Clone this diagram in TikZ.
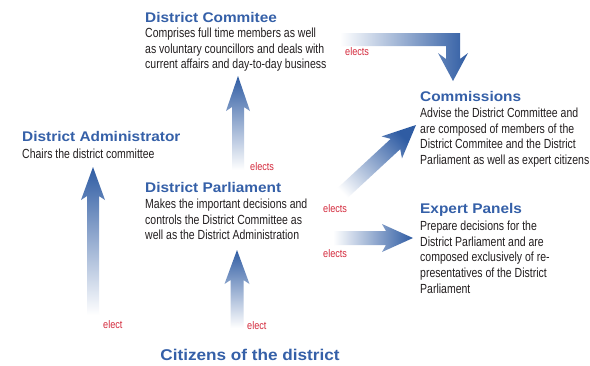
\documentclass[tikz,border=0pt]{standalone}
\usepackage{fontspec}
\setmainfont{Liberation Sans}
\newfontfamily\condfont[FakeStretch=0.795]{Liberation Sans}
\newfontfamily\labelfont[FakeStretch=0.83]{Liberation Sans}
\newfontfamily\widefont[FakeStretch=1.1]{Liberation Sans}
\usetikzlibrary{calc}
\definecolor{arrowblue}{HTML}{2F5CA3}
\definecolor{titleblue}{HTML}{3560A8}
\definecolor{labelred}{HTML}{D42A3C}
\definecolor{bodygray}{HTML}{231F20}
\tikzset{
  titletext/.style={anchor=base west, inner sep=0pt, font=\widefont\fontsize{14}{17}\selectfont\bfseries, text=titleblue},
  bodytext/.style={anchor=north west, inner sep=0pt, align=left, font=\condfont\fontsize{13.2}{15.8}\selectfont, text=bodygray},
  electtext/.style={anchor=base west, inner sep=0pt, font=\labelfont\fontsize{11}{13}\selectfont, text=labelred},
  upshade/.style={top color=arrowblue, bottom color=white},
  rightshade/.style={left color=white, right color=arrowblue},
  diagshade/.style={top color=arrowblue, bottom color=white, shading angle=-45},
}
% tail, tip, half shaft width, half head width, wing distance, notch distance, shading
\newcommand\drawfatarrow[7]{%
  \coordinate (fa-n) at ($(#2)!#6!(#1)$);
  \coordinate (fa-w) at ($(#2)!#5!(#1)$);
  \shade[#7] ($(#1)!#3!90:(#2)$) -- ($(fa-n)!#3!-90:(#1)$) -- ($(fa-w)!#4!-90:(#1)$)
    -- (#2) -- ($(fa-w)!#4!90:(#1)$) -- ($(fa-n)!#3!90:(#1)$) -- ($(#1)!#3!-90:(#2)$) -- cycle;
}
\begin{document}
\begin{tikzpicture}[x=1pt,y=-1pt]
\useasboundingbox[fill=white] (0,0) rectangle (590,365);

% text blocks
\node[titletext] (comm-t) at (145,22) {District Commitee};
\node[bodytext] (comm-b) at (145,27.5) {Comprises full time members as well\\as voluntary councillors and deals with\\current affairs and day-to-day business};

\node[titletext] (cms-t) at (420,101) {Commissions};
\node[bodytext] (cms-b) at (420,107.5) {Advise the District Committee and\\are composed of members of the\\District Commitee and the District\\Parliament as well as expert citizens};

\node[titletext] (adm-t) at (22,141) {District Administrator};
\node[bodytext] (adm-b) at (22,148.5) {Chairs the district committee};

\node[titletext] (par-t) at (145,192) {District Parliament};
\node[bodytext] (par-b) at (145,198.5) {Makes the important decisions and\\controls the District Committee as\\well as the District Administration};

\node[titletext] (exp-t) at (420,213) {Expert Panels};
\node[bodytext] (exp-b) at (420,220.5) {Prepare decisions for the\\District Parliament and are\\composed exclusively of re-\\presentatives of the District\\Parliament};

\node[anchor=base, inner sep=0pt, font=\widefont\fontsize{15.6}{19}\selectfont\bfseries, text=titleblue] (cit) at (250,360) {Citizens of the district};

% labels
\node[electtext] (l1) at (345,55) {elects};
\node[electtext] (l2) at (250,170) {elects};
\node[electtext] (l3) at (323,212) {elects};
\node[electtext] (l4) at (323,257) {elects};
\node[electtext] (l5) at (103,328) {elect};
\node[electtext] (l6) at (247,329) {elect};

% arrow end points
\coordinate (adm-tail) at (93,315);
\coordinate (adm-tip) at (93,167);
\coordinate (com-tail) at (238,170);
\coordinate (com-tip) at (238,76);
\coordinate (cit-tail) at (237,328);
\coordinate (cit-tip) at (237,250);
\coordinate (dia-tail) at (335,200);
\coordinate (dia-tip) at (416,125);
\coordinate (hor-tail) at (333,238);
\coordinate (hor-tip) at (413,238);

\drawfatarrow{adm-tail}{adm-tip}{6pt}{12pt}{33pt}{29pt}{upshade}
\drawfatarrow{com-tail}{com-tip}{6pt}{12pt}{35pt}{31pt}{upshade}
\drawfatarrow{cit-tail}{cit-tip}{6.5pt}{12.5pt}{34pt}{30pt}{upshade}
\drawfatarrow{dia-tail}{dia-tip}{7pt}{15pt}{33pt}{28pt}{diagshade}
\drawfatarrow{hor-tail}{hor-tip}{7pt}{14pt}{31pt}{27pt}{rightshade}

% bent arrow
\coordinate (bent-tail) at (340,39.5);
\coordinate (bent-corner) at (453,39.5);
\coordinate (bent-tip) at (453,81);
\shade[rightshade] ($(bent-tail)+(0,-6.5)$) -- ($(bent-corner)+(7,-6.5)$) -- ($(bent-tip)+(7,-22)$)
  -- ($(bent-tip)+(15,-28)$) -- (bent-tip) -- ($(bent-tip)+(-15,-28)$) -- ($(bent-tip)+(-7,-22)$)
  -- ($(bent-corner)+(-7,6.5)$) -- ($(bent-tail)+(0,6.5)$) -- cycle;
\end{tikzpicture}
\end{document}
